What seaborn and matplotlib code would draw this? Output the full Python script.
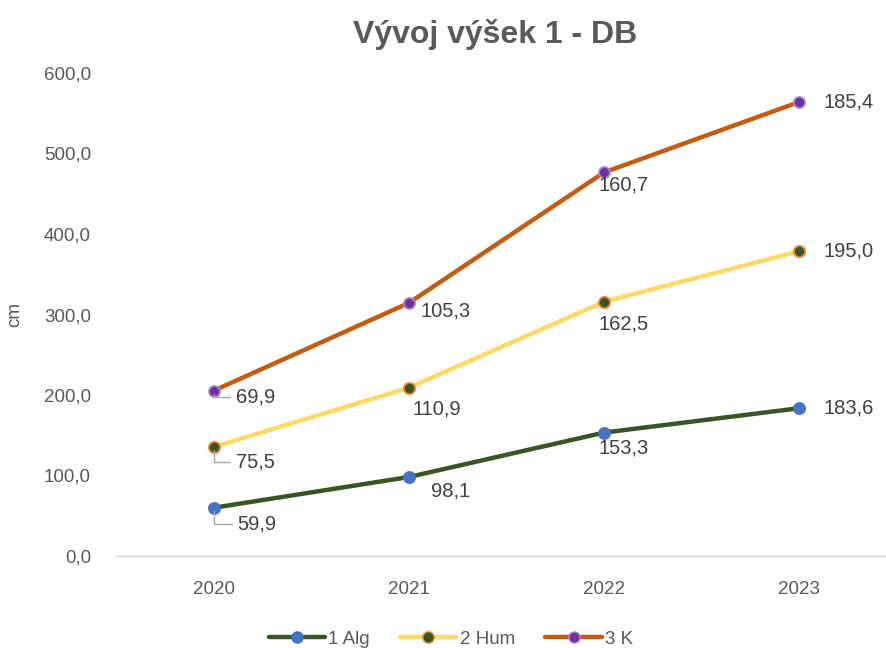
import matplotlib
matplotlib.use("Agg")
import matplotlib.pyplot as plt
from matplotlib.lines import Line2D
from matplotlib.ticker import FuncFormatter
import numpy as np
import pandas as pd
import seaborn as sns

# data (stacked line chart)
years = ["2020", "2021", "2022", "2023"]
alg = [59.9, 98.1, 153.3, 183.6]
hum = [75.5, 110.9, 162.5, 195.0]
k = [69.9, 105.3, 160.7, 185.4]
series_names = ["1 Alg", "2 Hum", "3 K"]

sns.set_style("white")
plt.rcParams["font.family"] = ["Liberation Sans", "DejaVu Sans"]

TXT = "#595959"
LBL = "#404040"

styles = {
    "1 Alg": dict(line="#375623", face="#4472C4", edge="#4472C4"),
    "2 Hum": dict(line="#FFD966", face="#375623", edge="#ED7D31"),
    "3 K": dict(line="#C55A11", face="#7030A0", edge="#A98BC9"),
}

# label offsets in pixels (dx, dy) relative to point, per series
offsets = {
    "1 Alg": [(24, -16), (22, -14), (-5, -15), (24, 0)],
    "2 Hum": [(22, -15), (4, -21), (-5, -22), (24, 0)],
    "3 K": [(22, -6), (12, -8), (-5, -13), (24, 0)],
}

values = np.array([alg, hum, k])
stacked = np.cumsum(values, axis=0)
df = pd.DataFrame({
    "year": np.tile(np.arange(len(years)), len(series_names)),
    "cum": stacked.ravel(),
    "val": values.ravel(),
    "series": np.repeat(series_names, len(years)),
})

fig = plt.figure(figsize=(8.87, 6.48), dpi=100)
# axes spans 116..887 px; category width ~195 px
ax = fig.add_axes([116 / 887, 92 / 648, 771 / 887, 483 / 648])

for name in series_names:
    st = styles[name]
    sub = df[df["series"] == name]
    sns.lineplot(data=sub, x="year", y="cum", ax=ax, color=st["line"], lw=3.2,
                 marker="o", markersize=8, markerfacecolor=st["face"],
                 markeredgecolor=st["edge"], markeredgewidth=1.3, legend=False)
    for i, (x, y, v) in enumerate(zip(sub["year"], sub["cum"], sub["val"])):
        dx, dy = offsets[name][i]
        txt = f"{v:.1f}".replace(".", ",")
        if i == 0:
            ax.annotate(txt, (x, y), xytext=(dx, dy), textcoords="offset pixels",
                        fontsize=14.5, color=LBL, va="center", ha="left",
                        arrowprops=dict(arrowstyle="-", color="#a6a6a6", lw=1,
                                        shrinkA=2, shrinkB=2,
                                        connectionstyle="angle,angleA=0,angleB=90,rad=0"))
        else:
            ax.annotate(txt, (x, y), xytext=(dx, dy), textcoords="offset pixels",
                        fontsize=14.5, color=LBL, va="center", ha="left")

ax.set_xlim(-0.5, 3.45)
ax.set_ylim(0, 600)
ax.set_xticks(range(len(years)))
ax.set_xticklabels(years)
ax.set_yticks(np.arange(0, 601, 100))
ax.yaxis.set_major_formatter(FuncFormatter(lambda v, p: f"{v:.1f}".replace(".", ",")))
ax.tick_params(axis="x", length=0, pad=18, labelsize=13.5, labelcolor=TXT)
ax.tick_params(axis="y", length=0, pad=18, labelsize=13.5, labelcolor=TXT)
for s in ["top", "right", "left"]:
    ax.spines[s].set_visible(False)
ax.spines["bottom"].set_color("#d9d9d9")
ax.spines["bottom"].set_linewidth(1)
ax.set_xlabel("")
ax.set_ylabel("cm", fontsize=13.5, color=TXT)
ax.yaxis.set_label_coords(-0.12, 0.5)

fig.text(495 / 887, 1 - 35 / 648, "Vývoj výšek 1 - DB", ha="center", va="center",
         fontsize=23, fontweight="bold", color=TXT)

handles = [Line2D([0], [0], color=styles[n]["line"], lw=3.2, marker="o", markersize=8,
                  markerfacecolor=styles[n]["face"], markeredgecolor=styles[n]["edge"])
           for n in series_names]
fig.legend(handles, series_names, loc="center", bbox_to_anchor=(451 / 887, 9 / 648),
           ncol=3, frameon=False, fontsize=13.5, labelcolor=TXT, handlelength=3.0,
           handletextpad=0.2, columnspacing=1.6)

fig.savefig("out.png", dpi=100)
